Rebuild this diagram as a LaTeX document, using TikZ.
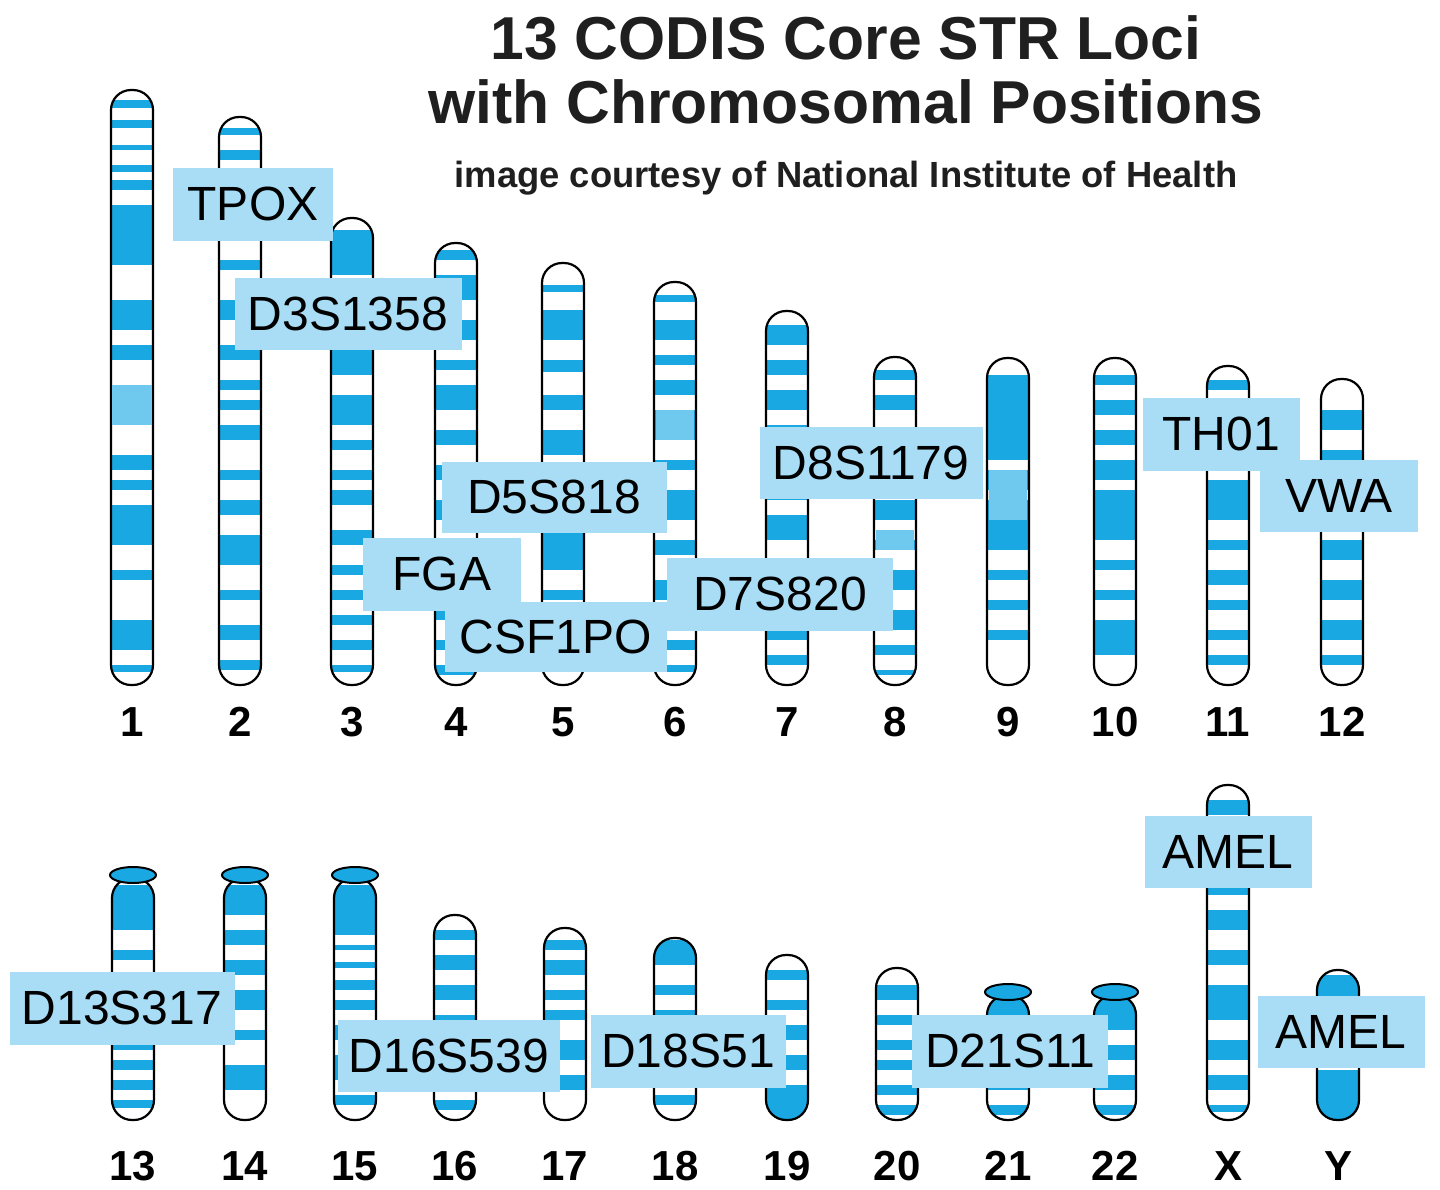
\documentclass[tikz,border=0pt]{standalone}
\usepackage{fontspec}
\setmainfont{Liberation Sans}
\definecolor{cb}{HTML}{1AA8E2}
\definecolor{cl}{HTML}{6FC8EE}
\definecolor{lab}{HTML}{A8DDF5}
\begin{document}
\begin{tikzpicture}[x=0.5pt,y=-0.5pt,
 lbl/.style={fill=lab,inner sep=0pt,font=\fontsize{24}{26}\selectfont},
 num/.style={font=\bfseries\fontsize{21}{23}\selectfont},
 chrline/.style={draw=black,line width=1.1pt,rounded corners=10pt}]
\useasboundingbox (0,0) rectangle (1440,1189);
\newcommand\chr[4]{%
 \begin{scope}
 \clip[rounded corners=10pt] (#1-21,#2) rectangle (#1+21,#3);
 \fill[white] (#1-21,#2) rectangle (#1+21,#3);
 \foreach \a/\b in {#4} \fill[cb] (#1-21,\a) rectangle (#1+21,\b);
 \end{scope}
 \draw[chrline] (#1-21,#2) rectangle (#1+21,#3);}
\newcommand\satcap[2]{\draw[fill=cb,line width=1pt] (#1,#2) ellipse (23 and 8);}
% top row
\chr{132}{90}{685}{100/108,120/128,145/150,165/172,180/190,205/265,300/330,345/360,385/425,455/470,480/490,505/545,570/580,620/650,665/672}
\fill[cl] (112,385) rectangle (152,425);
\chr{240}{117}{685}{128/135,150/160,175/182,195/205,260/270,300/320,345/360,380/390,400/410,425/440,470/480,500/515,535/565,590/600,625/640,660/670}
\chr{352}{218}{685}{230/275,290/300,320/330,350/375,395/425,440/450,470/480,490/505,530/545,565/575,590/600,615/625,640/650,665/672}
\chr{456}{243}{685}{250/260,275/300,320/340,360/370,385/410,430/445,465/480,500/520,540/560,580/590,610/620,640/650,665/675}
\chr{563}{263}{685}{285/292,310/340,360/372,395/410,430/455,480/500,530/570,590/600,620/630,650/660}
\chr{675}{282}{685}{295/302,320/340,355/365,380/395,410/440,460/470,490/520,540/555,580/600,615/625,640/650,665/672}
\fill[cl] (656,410) rectangle (694,440);
\chr{787}{311}{685}{325/345,360/375,390/410,425/440,470/500,515/540,560/580,600/615,630/640,655/665}
\chr{895}{357}{685}{370/380,395/410,430/450,470/480,500/520,540/550,570/590,610/630,645/655,670/675}
\fill[cl] (876,530) rectangle (914,550);
\chr{1008}{358}{685}{375/460,470/490,500/550,570/580,600/610,630/640}
\fill[cl] (989,470) rectangle (1027,520);
\chr{1115}{358}{685}{375/385,400/415,430/445,460/480,490/540,560/570,590/600,620/655}
\chr{1228}{366}{685}{380/390,410/420,440/460,480/520,540/550,570/585,600/610,630/640,655/665}
\chr{1342}{379}{685}{410/430,450/470,490/520,540/560,580/600,620/640,655/665}
% bottom row
\chr{133}{878}{1120}{885/930,950/960,975/985,1000/1050,1060/1070,1080/1090,1100/1108}
\chr{245}{878}{1120}{885/915,930/945,960/975,990/1010,1030/1040,1065/1090}
\chr{355}{878}{1120}{885/935,945/950,962/968,980/990,1000/1010,1025/1040,1055/1080,1095/1105}
\chr{455}{915}{1120}{930/940,955/970,985/1000,1015/1025,1040/1050,1070/1090,1100/1110}
\chr{565}{928}{1120}{940/950,960/975,990/1000,1010/1020,1040/1060,1075/1090}
\chr{675}{938}{1120}{940/965,985/995,1010/1020,1040/1050,1075/1085,1095/1105}
\chr{787}{955}{1120}{970/980,1000/1010,1025/1040,1055/1070,1085/1120}
\chr{897}{968}{1120}{985/1000,1015/1025,1040/1050,1060/1070,1085/1095,1105/1115}
\chr{1008}{995}{1120}{995/1030,1050/1065,1080/1090,1105/1115}
\chr{1115}{995}{1120}{995/1030,1045/1060,1075/1090,1105/1115}
\chr{1228}{785}{1120}{800/815,830/860,880/895,910/930,950/965,985/1020,1040/1060,1075/1090,1105/1112}
\chr{1338}{970}{1120}{975/1000,1070/1120}
\satcap{133}{875}\satcap{245}{875}\satcap{355}{875}\satcap{1008}{992}\satcap{1115}{992}
% labels
\node[lbl,minimum width=80pt,minimum height=36.5pt] (tpox) at (253,204) {TPOX};
\node[lbl,minimum width=113.5pt,minimum height=36pt] (d3) at (348,314) {D3S1358};
\node[lbl,minimum width=112.5pt,minimum height=35.5pt] (d5) at (554,497) {D5S818};
\node[lbl,minimum width=79pt,minimum height=36.5pt] (fga) at (442,574) {FGA};
\node[lbl,minimum width=111pt,minimum height=35pt] (csf) at (556,637) {CSF1PO};
\node[lbl,minimum width=113pt,minimum height=36.5pt] (d7) at (780,594) {D7S820};
\node[lbl,minimum width=111.5pt,minimum height=36pt] (d8) at (871,463) {D8S1179};
\node[lbl,minimum width=78.5pt,minimum height=36.5pt] (th) at (1221,434) {TH01};
\node[lbl,minimum width=79pt,minimum height=36pt] (vwa) at (1339,496) {VWA};
\node[lbl,minimum width=83.5pt,minimum height=36pt] (amx) at (1228,852) {AMEL};
\node[lbl,minimum width=83.5pt,minimum height=36pt] (amy) at (1341,1032) {AMEL};
\node[lbl,minimum width=112.5pt,minimum height=36.5pt] (d13) at (122,1008) {D13S317};
\node[lbl,minimum width=111pt,minimum height=36pt] (d16) at (449,1056) {D16S539};
\node[lbl,minimum width=97.5pt,minimum height=36.5pt] (d18) at (688,1051) {D18S51};
\node[lbl,minimum width=98pt,minimum height=36.5pt] (d21) at (1010,1051) {D21S11};
% numbers
\foreach \x/\t [count=\i] in {132/1,240/2,352/3,456/4,563/5,675/6,787/7,895/8,1008/9,1115/10,1228/11,1342/12}
 \node[num] (n\i) at (\x,722) {\t};
\foreach \x/\t [count=\i] in {133/13,245/14,355/15,455/16,565/17,675/18,787/19,897/20,1008/21,1115/22,1228/X,1338/Y}
 \node[num] (m\i) at (\x,1166) {\t};
% title
\node[font=\bfseries\fontsize{30.3}{33}\selectfont,text=black!88] (t1) at (846,38) {13 CODIS Core STR Loci};
\node[font=\bfseries\fontsize{30.3}{33}\selectfont,text=black!88] (t2) at (846,102) {with Chromosomal Positions};
\node[font=\bfseries\fontsize{18.2}{20}\selectfont,text=black!88] (t3) at (846,178) {image courtesy of National Institute of Health};
\end{tikzpicture}
\end{document}
